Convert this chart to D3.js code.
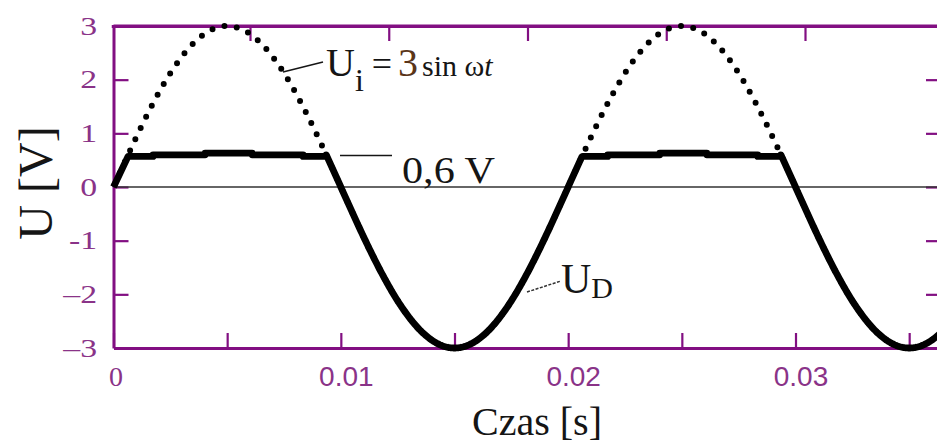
<!DOCTYPE html>
<html>
<head>
<meta charset="utf-8">
<script src="https://cdn.jsdelivr.net/npm/d3@7"></script>
<style>
  html, body { margin: 0; padding: 0; background: #fff; }
  svg { display: block; }
  .serif { font-family: "Liberation Serif", "Times New Roman", serif; }
  .sans { font-family: "Liberation Sans", Arial, sans-serif; }
</style>
</head>
<body>
<svg id="chart" width="937" height="445"></svg>
<script>
// Input voltage U_i = 3 sin(ωt), 50 Hz
const amplitude = 3;          // V
const period = 0.02;          // s
const timeEnd = 0.0364;       // s, right edge of the time axis

// Diode forward-conduction plateau of U_D in one positive half-wave
const plateauTimes = [0.00064, 0.00174, 0.00403, 0.00610, 0.00834, 0.00936];
const plateauLevels = [0.57, 0.60, 0.63, 0.60, 0.57];

// Axis ticks
const timeMinorTicks = [0, 0.005, 0.01, 0.015, 0.02, 0.025, 0.03, 0.035];
const timeTicks = [0, 0.01, 0.02, 0.03];
const timeTickLabels = ["0", "0.01", "0.02", "0.03"];
const voltTicks = [-3, -2, -1, 0, 1, 2, 3];
const voltTickLabels = ["\u20133", "\u20132", "-1", "0", "1", "2", "3"];
const topTicks = [1, 2, 3, 4, 5];
const rightTicks = [-2, -1, 0, 1, 2];

const purple = "#820f82";
const purpleText = "#8a3388";
const ink = "#151515";

const svg = d3.select("#chart");

const x = d3.scaleLinear().domain([0, timeEnd]).range([113.5, 941]);
const y = d3.scaleLinear().domain([-3, 3]).range([348, 26]);
const xTop = d3.scaleLinear().domain([0, 6]).range([111.25, 943.75]);

const ui = t => amplitude * Math.sin(2 * Math.PI * t / period);

// ---- axes -------------------------------------------------------------
function styleAxis(g) {
  g.selectAll(".domain").attr("stroke", purple).attr("stroke-width", 3);
  g.selectAll(".tick line").attr("stroke", purple).attr("stroke-width", 2.2);
}

// bottom: minor ticks every 5 ms
svg.append("g")
  .attr("transform", `translate(0,${y(-3)})`)
  .call(d3.axisBottom(x).tickValues(timeMinorTicks).tickSizeInner(-15).tickSizeOuter(0).tickFormat(""))
  .call(styleAxis);

// bottom: labels
const xLab = svg.append("g")
  .attr("transform", `translate(0,${y(-3)})`)
  .call(d3.axisBottom(x).tickValues(timeTicks).tickSize(0).tickPadding(18)
        .tickFormat((d, i) => timeTickLabels[i]));
xLab.select(".domain").remove();
xLab.selectAll("text")
  .attr("class", (d) => d === 0 ? "serif" : "sans")
  .attr("font-size", 28)
  .attr("fill", purpleText)
  .attr("dx", d => d === 0 ? 2 : 5);

// top
svg.append("g")
  .attr("transform", `translate(0,${y(3)})`)
  .call(d3.axisTop(xTop).tickValues(topTicks).tickSizeInner(-15).tickSizeOuter(0).tickFormat(""))
  .call(styleAxis);
svg.append("line")
  .attr("x1", x(0)).attr("x2", 941).attr("y1", y(3)).attr("y2", y(3))
  .attr("stroke", purple).attr("stroke-width", 3);

// right
svg.append("g")
  .attr("transform", `translate(${x(timeEnd)},0)`)
  .call(d3.axisRight(y).tickValues(rightTicks).tickSizeInner(-15).tickSizeOuter(0).tickFormat(""))
  .call(styleAxis);

// left
const yAx = svg.append("g")
  .attr("transform", `translate(${x(0)},0)`)
  .call(d3.axisLeft(y).tickValues(voltTicks).tickSizeInner(-15).tickSizeOuter(0).tickPadding(0)
        .tickFormat((d, i) => voltTickLabels[i]))
  .call(styleAxis);
yAx.selectAll(".tick line").filter(d => d === 3 || d === -3).remove();
yAx.selectAll("text")
  .attr("class", "serif")
  .attr("font-size", 25)
  .attr("fill", purpleText)
  .attr("x", -16.5 / 1.35)
  .attr("dy", "0.33em")
  .attr("transform", "scale(1.35,1)");

// zero line
svg.append("line")
  .attr("x1", x(0)).attr("x2", x(timeEnd))
  .attr("y1", y(0)).attr("y2", y(0))
  .attr("stroke", "#333").attr("stroke-width", 1.6);

// ---- curves ------------------------------------------------------------
const line = d3.line().x(d => x(d[0])).y(d => y(d[1]));

// U_i, dotted
const uiPts = d3.range(0, timeEnd + 1e-9, 0.00002).map(t => [t, ui(t)]);
svg.append("path")
  .attr("d", line(uiPts))
  .attr("fill", "none")
  .attr("stroke", "#000")
  .attr("stroke-width", 6)
  .attr("stroke-linecap", "round")
  .attr("stroke-dasharray", "0 12.4")
  .attr("stroke-dashoffset", -3);

// U_D: plateau while the diode conducts, follows U_i otherwise
const udPts = [[0, 0]];
const halfWaves = [0, period];
halfWaves.forEach((shift, k) => {
  plateauLevels.forEach((lv, i) => {
    udPts.push([plateauTimes[i] + shift, lv]);
    udPts.push([plateauTimes[i + 1] + shift, lv]);
  });
  const from = plateauTimes[plateauTimes.length - 1] + shift;
  const to = k + 1 < halfWaves.length ? plateauTimes[0] + halfWaves[k + 1] : timeEnd;
  d3.range(from, to, 0.00004).forEach(t => udPts.push([t, ui(t)]));
  udPts.push([to, k + 1 < halfWaves.length ? plateauLevels[0] : ui(to)]);
});
svg.append("path")
  .attr("d", line(udPts))
  .attr("fill", "none")
  .attr("stroke", "#000")
  .attr("stroke-width", 6.8)
  .attr("stroke-linejoin", "round");

// ---- annotations ------------------------------------------------------
// U_i label
svg.append("line").attr("x1", 283).attr("y1", 72).attr("x2", 323).attr("y2", 62)
  .attr("stroke", ink).attr("stroke-width", 1.5);
const uiText = svg.append("text").attr("class", "serif").attr("fill", ink)
  .attr("x", 326).attr("y", 76);
uiText.append("tspan").attr("font-size", 40).text("U");
uiText.append("tspan").attr("font-size", 32).attr("dy", 15).text("i");
uiText.append("tspan").attr("font-size", 36).attr("dy", -15).attr("dx", 8).text("=");
uiText.append("tspan").attr("font-size", 40).attr("dx", 6).attr("fill", "#5a3518").text("3");
uiText.append("tspan").attr("font-size", 30).attr("dx", 4).text("sin ");
uiText.append("tspan").attr("font-size", 30).text("\u03c9");
uiText.append("tspan").attr("font-size", 30).attr("font-style", "italic").text("t");

// 0,6 V label
svg.append("line").attr("x1", 340).attr("y1", 155.5).attr("x2", 392).attr("y2", 155.5)
  .attr("stroke", ink).attr("stroke-width", 1.6);
svg.append("text").attr("class", "serif").attr("fill", ink)
  .attr("x", 402).attr("y", 183).attr("font-size", 38)
  .attr("textLength", 93).attr("lengthAdjust", "spacingAndGlyphs")
  .text("0,6 V");

// U_D label
svg.append("line").attr("x1", 527).attr("y1", 292).attr("x2", 561).attr("y2", 281)
  .attr("stroke", "#333").attr("stroke-width", 1.5).attr("stroke-dasharray", "3 1.5");
const udText = svg.append("text").attr("class", "serif").attr("fill", ink)
  .attr("x", 561).attr("y", 293);
udText.append("tspan").attr("font-size", 42).text("U");
udText.append("tspan").attr("font-size", 30).attr("dy", 5).text("D");

// axis titles
svg.append("text").attr("class", "serif").attr("fill", ink)
  .attr("font-size", 40).attr("text-anchor", "middle")
  .attr("x", 537).attr("y", 435).text("Czas [s]");
svg.append("text").attr("class", "serif").attr("fill", ink)
  .attr("font-size", 48).attr("text-anchor", "middle")
  .attr("transform", "translate(52,183) rotate(-90)")
  .text("U [V]");
</script>
</body>
</html>
